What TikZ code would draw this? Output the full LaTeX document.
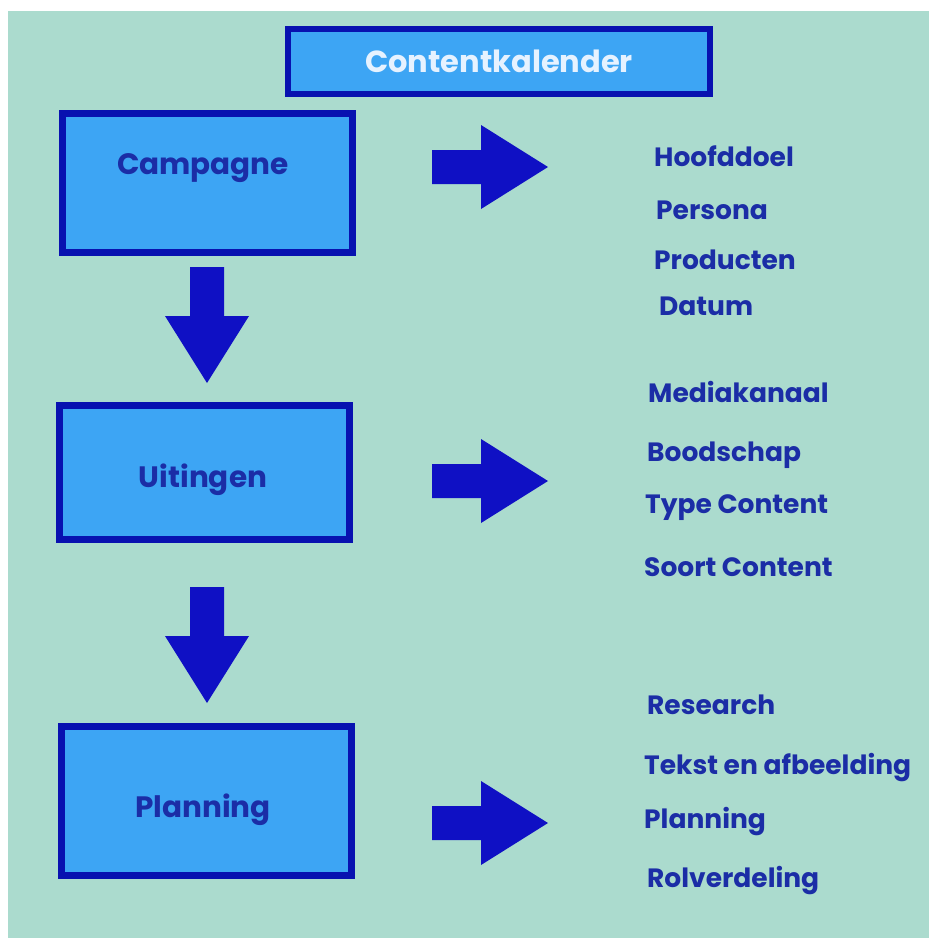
\documentclass[tikz,border=0pt]{standalone}
\usepackage{fontspec}
\setmainfont{Poppins}
\definecolor{bgteal}{HTML}{ABDBCE}
\definecolor{boxfill}{HTML}{3DA5F4}
\definecolor{boxline}{HTML}{0811B0}
\definecolor{arrowblue}{HTML}{0F10C4}
\definecolor{textblue}{HTML}{1B2DA6}
\definecolor{titletext}{HTML}{E6F2FF}
\begin{document}
\begin{tikzpicture}[x=1pt,y=-1pt,
  stagebox/.style={draw=boxline, line width=7pt, fill=boxfill, inner sep=0pt,
    minimum width=290pt, minimum height=139pt},
  stagelabel/.style={text=textblue, font=\fontsize{29.5}{33}\selectfont\bfseries, inner sep=0pt},
  item/.style={anchor=west, text=textblue, font=\fontsize{26.5}{30}\selectfont\bfseries, inner sep=0pt},
  blockarrow/.pic={\fill[arrowblue] (0,-17) -- (49,-17) -- (49,-42) -- (116,0) -- (49,42) -- (49,17) -- (0,17) -- cycle;}
]
% page and background
\useasboundingbox (0,0) rectangle (929,938);
\fill[white] (0,0) rectangle (929,938);
\fill[bgteal] (8,11) rectangle (929,938);

% title
\node[draw=boxline, line width=6pt, fill=boxfill, minimum width=422pt, minimum height=65pt,
  text=titletext, font=\fontsize{30.5}{33}\selectfont\bfseries] (title) at (499,61.5) {Contentkalender};

% stage boxes
\node[stagebox] (campagne) at (207.5,183) {};
\node[stagebox, minimum height=134pt] (uitingen) at (204,472) {};
\node[stagebox, minimum height=149pt] (planning) at (206.5,801) {};
\node[stagelabel] (campagneT) at (203,168) {Campagne};
\node[stagelabel] (uitingenT) at (203,480) {Uitingen};
\node[stagelabel] (planningT) at (203,810) {Planning};

% arrows between stages and towards the item lists
\pic[rotate=-90] at (207,267) {blockarrow};
\pic[rotate=-90] at (207,587) {blockarrow};
\pic at (432,167) {blockarrow};
\pic at (432,481) {blockarrow};
\pic at (432,823) {blockarrow};

% items per stage
\node[item] (i1) at (654,156) {Hoofddoel};
\node[item] (i2) at (656,210) {Persona};
\node[item] (i3) at (654,260) {Producten};
\node[item] (i4) at (659,306) {Datum};
\node[item] (i5) at (648,392) {Mediakanaal};
\node[item] (i6) at (647,455) {Boodschap};
\node[item] (i7) at (645,508) {Type Content};
\node[item] (i8) at (644,567) {Soort Content};
\node[item] (i9) at (647,705) {Research};
\node[item] (i10) at (644,768) {Tekst en afbeelding};
\node[item] (i11) at (644,822) {Planning};
\node[item] (i12) at (647,881) {Rolverdeling};
\end{tikzpicture}
\end{document}
